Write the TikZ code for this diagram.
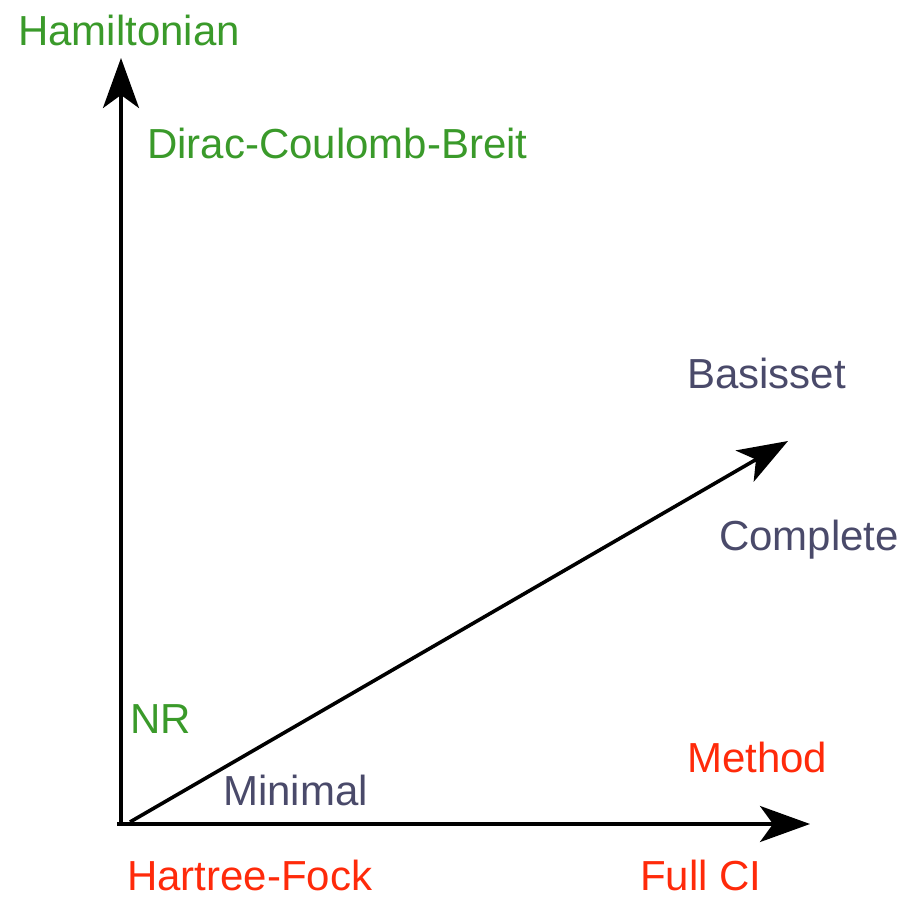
\documentclass[tikz,border=0pt]{standalone}
\usepackage{fontspec}
\setmainfont{Liberation Sans}
\usetikzlibrary{arrows.meta}
\definecolor{hgreen}{RGB}{58,154,42}
\definecolor{mred}{RGB}{255,42,10}
\definecolor{bslate}{RGB}{74,74,106}
\begin{document}
\begin{tikzpicture}[x=1pt,y=-1pt,
  lbl/.style={anchor=base west,inner sep=0pt,font=\fontsize{42}{48}\selectfont},
  axis/.style={line width=3.6pt,-{Stealth[length=50pt,width=36pt,inset=13pt]}}]
\useasboundingbox (0,0) rectangle (908,899);
\coordinate (o1) at (121,826);
\coordinate (ytip) at (121,58);
\coordinate (o2) at (117,824);
\coordinate (xtip) at (810,824);
\coordinate (o3) at (130,822);
\coordinate (dtip) at (788,441);
\draw[axis] (o1) -- (ytip);
\draw[axis] (o2) -- (xtip);
\draw[axis] (o3) -- (dtip);
\node[lbl,text=hgreen] (ham) at (18,46) {Hamiltonian};
\node[lbl,text=hgreen] (dcb) at (147,158) {Dirac-Coulomb-Breit};
\node[lbl,text=hgreen] (nr) at (130,733) {NR};
\node[lbl,text=bslate] (bas) at (687,388) {Basisset};
\node[lbl,text=bslate] (comp) at (719,550) {Complete};
\node[lbl,text=bslate] (mini) at (223,805) {Minimal};
\node[lbl,text=mred] (meth) at (687,772) {Method};
\node[lbl,text=mred] (hf) at (127,890) {Hartree-Fock};
\node[lbl,text=mred] (fci) at (640,890) {Full CI};
\end{tikzpicture}
\end{document}
